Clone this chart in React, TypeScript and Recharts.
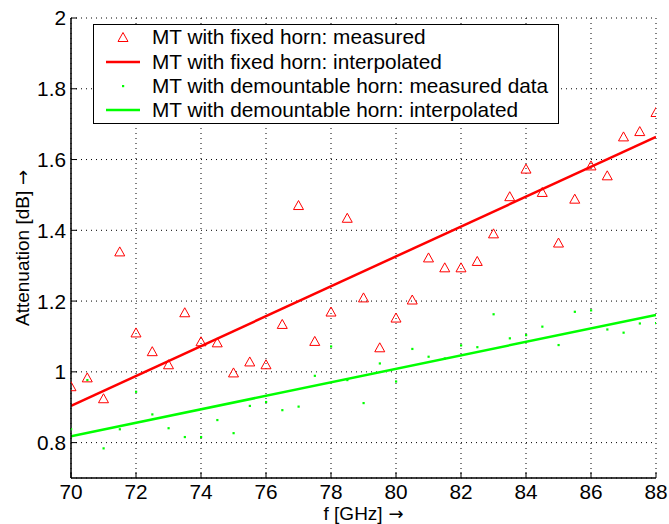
import { ComposedChart, Line, Scatter, XAxis, YAxis, CartesianGrid, Legend, Label } from 'recharts';

const freqs = [
  70, 70.5, 71, 71.5, 72, 72.5, 73, 73.5, 74, 74.5, 75, 75.5, 76, 76.5, 77, 77.5, 78, 78.5, 79,
  79.5, 80, 80.5, 81, 81.5, 82, 82.5, 83, 83.5, 84, 84.5, 85, 85.5, 86, 86.5, 87, 87.5, 88,
];
const fixedMeasured = [
  0.958, 0.983, 0.924, 1.339, 1.11, 1.057, 1.02, 1.167, 1.085, 1.082, 0.997, 1.028, 1.02, 1.134,
  1.47, 1.086, 1.169, 1.434, 1.209, 1.068, 1.152, 1.203, 1.322, 1.294, 1.294, 1.312, 1.39, 1.495,
  1.573, 1.507, 1.364, 1.488, 1.582, 1.554, 1.664, 1.679, 1.733,
];
const demountMeasured = [
  0.838, 0.977, 0.784, 0.838, 0.944, 0.88, 0.841, 0.816, 0.816, 0.864, 0.827, 0.904, 0.915, 0.892,
  0.902, 0.989, 1.072, 0.977, 0.912, 1.024, 0.973, 1.065, 1.043, 1.038, 1.075, 1.07, 1.163, 1.095,
  1.104, 1.128, 1.076, 1.17, 1.174, 1.12, 1.111, 1.137, 1.138,
];
const fitFreqs = [70, 88];
const fixedFit = [0.904, 1.664];
const demountFit = [0.818, 1.161];

const xTicks = [70, 72, 74, 76, 78, 80, 82, 84, 86, 88];
const yTicks = [0.8, 1, 1.2, 1.4, 1.6, 1.8, 2];

const legendLabels = [
  'MT with fixed horn: measured',
  'MT with fixed horn: interpolated',
  'MT with demountable horn: measured data',
  'MT with demountable horn: interpolated',
];

const FONT = '"Liberation Sans", Arial, Helvetica, sans-serif';
const ARROW_FONT = '"DejaVu Sans", sans-serif';
const FS = 20.8;
const RED = '#ff0000';
const GREEN = '#00ff00';
const GAP = 5;
const TICK = 6;

const fixedPts = freqs.map((f, i) => ({ f, v: fixedMeasured[i] }));
const demountPts = freqs.map((f, i) => ({ f, v: demountMeasured[i] }));
const fixedLine = fitFreqs.map((f, i) => ({ f, v: fixedFit[i] }));
const demountLine = fitFreqs.map((f, i) => ({ f, v: demountFit[i] }));

const Triangle = (props: any) => {
  const { cx, cy } = props;
  return (
    <polygon
      points={`${cx},${cy - 5} ${cx + 5},${cy + 4} ${cx - 5},${cy + 4}`}
      fill="none"
      stroke={RED}
      strokeWidth={1}
    />
  );
};

const Dot = (props: any) => {
  const { cx, cy } = props;
  return <rect x={cx - 1} y={cy - 1} width={2.2} height={2.2} fill={GREEN} />;
};

const BottomTick = (props: any) => {
  const { x, y, payload } = props;
  return (
    <g>
      <line x1={x} x2={x} y1={y - GAP} y2={y - GAP - TICK} stroke="#000" />
      <text x={x} y={y} dy="0.78em" textAnchor="middle" fontSize={FS} fontFamily={FONT} fill="#000">
        {payload.value}
      </text>
    </g>
  );
};

const LeftTick = (props: any) => {
  const { x, y, payload } = props;
  return (
    <g>
      <line x1={x + 5} x2={x + 5 + TICK} y1={y} y2={y} stroke="#000" />
      <text x={x} y={y} dy="0.36em" textAnchor="end" fontSize={FS} fontFamily={FONT} fill="#000">
        {payload.value}
      </text>
    </g>
  );
};

const TopTick = (props: any) => {
  const { x, y } = props;
  return <line x1={x} x2={x} y1={y} y2={y + TICK} stroke="#000" />;
};

const RightTick = (props: any) => {
  const { x, y } = props;
  return <line x1={x} x2={x - TICK} y1={y} y2={y} stroke="#000" />;
};

const AxisTitle = ({ x, y, rotate, text }: any) => (
  <text
    x={x}
    y={y}
    transform={rotate ? `rotate(-90 ${x} ${y})` : undefined}
    textAnchor="middle"
    fontSize={19}
    fontFamily={FONT}
    fill="#000"
  >
    {text}
    <tspan fontFamily={ARROW_FONT} fontSize={18}> →</tspan>
  </text>
);

const LegendBox = () => {
  const icons = [
    <polygon points="29,7.5 34,16.5 24,16.5" fill="none" stroke={RED} strokeWidth={1} />,
    <line x1={12} x2={46} y1={12} y2={12} stroke={RED} strokeWidth={2.5} />,
    <rect x={28} y={11} width={2.2} height={2.2} fill={GREEN} />,
    <line x1={12} x2={46} y1={12} y2={12} stroke={GREEN} strokeWidth={2.5} />,
  ];
  return (
    <div
      style={{
        width: 466,
        height: 100,
        boxSizing: 'border-box',
        border: '1.5px solid #000',
        background: '#fff',
        fontFamily: FONT,
        fontSize: FS,
        color: '#000',
      }}
    >
      {legendLabels.map((label, i) => (
        <div key={label} style={{ display: 'flex', alignItems: 'center', height: 24.4 }}>
          <svg width={58} height={24} style={{ flex: 'none' }}>
            {icons[i]}
          </svg>
          <span style={{ whiteSpace: 'nowrap' }}>{label}</span>
        </div>
      ))}
    </div>
  );
};

export default function App() {
  return (
    <div style={{ position: 'absolute', left: 0, top: 0, background: '#fff' }}>
      <ComposedChart width={669} height={524} margin={{ top: 18, right: 13, bottom: 0, left: 0 }}>
        <CartesianGrid stroke="#000" strokeDasharray="1 4" strokeWidth={1} />
        <XAxis
          dataKey="f"
          type="number"
          domain={[70, 88]}
          ticks={xTicks}
          height={46}
          tickSize={0}
          tickMargin={GAP}
          tick={<BottomTick />}
          axisLine={{ stroke: '#000', strokeWidth: 1.5 }}
          allowDataOverflow
        >
          <Label
            content={(p: any) => {
              const vb = p.viewBox;
              return <AxisTitle x={vb.x + vb.width / 2} y={vb.y + vb.height - 4.5} text="f [GHz]" />;
            }}
          />
        </XAxis>
        <XAxis
          xAxisId="top"
          orientation="top"
          type="number"
          domain={[70, 88]}
          ticks={xTicks}
          height={0}
          tickSize={0}
          tickMargin={0}
          tick={<TopTick />}
          axisLine={{ stroke: '#000', strokeWidth: 1.5 }}
          allowDataOverflow
        />
        <YAxis
          type="number"
          domain={[0.7, 2]}
          ticks={yTicks}
          width={71}
          tickSize={0}
          tickMargin={5}
          tick={<LeftTick />}
          axisLine={{ stroke: '#000', strokeWidth: 1.5 }}
          allowDataOverflow
        >
          <Label
            content={(p: any) => {
              const vb = p.viewBox;
              return (
                <AxisTitle x={vb.x + 29} y={vb.y + vb.height / 2} rotate text="Attenuation [dB]" />
              );
            }}
          />
        </YAxis>
        <YAxis
          yAxisId="right"
          orientation="right"
          type="number"
          domain={[0.7, 2]}
          ticks={yTicks}
          width={0}
          tickSize={0}
          tickMargin={0}
          tick={<RightTick />}
          axisLine={{ stroke: '#000', strokeWidth: 1.5 }}
          allowDataOverflow
        />
        <Line
          data={fixedLine}
          dataKey="v"
          type="linear"
          stroke={RED}
          strokeWidth={2.5}
          dot={false}
          activeDot={false}
          isAnimationActive={false}
        />
        <Line
          data={demountLine}
          dataKey="v"
          type="linear"
          stroke={GREEN}
          strokeWidth={2.5}
          dot={false}
          activeDot={false}
          isAnimationActive={false}
        />
        <Scatter data={demountPts} dataKey="v" shape={<Dot />} isAnimationActive={false} />
        <Scatter data={fixedPts} dataKey="v" shape={<Triangle />} isAnimationActive={false} />
        <Legend
          layout="horizontal"
          verticalAlign="middle"
          align="center"
          wrapperStyle={{ left: 93, top: 24, width: 466, height: 100 }}
          content={() => <LegendBox />}
        />
      </ComposedChart>
    </div>
  );
}
